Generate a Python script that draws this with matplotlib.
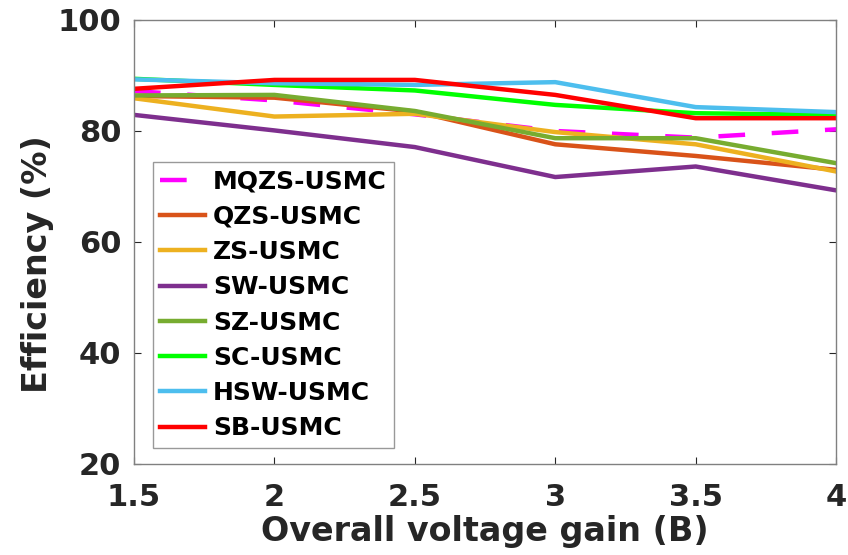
import matplotlib
matplotlib.use('Agg')
import matplotlib.pyplot as plt

plt.rcParams['font.family'] = ['DejaVu Sans']
plt.rcParams['font.weight'] = 'bold'

gain = [1.5, 2, 2.5, 3, 3.5, 4]

mqzs = [87.2, 85.5, 83.0, 80.0, 78.8, 80.3]
qzs = [86.3, 86.0, 83.5, 77.6, 75.5, 73.0]
zs = [85.9, 82.6, 83.1, 79.8, 77.6, 72.7]
sw = [82.9, 80.1, 77.1, 71.7, 73.6, 69.3]
sz = [86.4, 86.5, 83.6, 78.7, 78.7, 74.2]
sc = [89.4, 88.3, 87.3, 84.7, 83.2, 82.9]
hsw = [89.3, 88.6, 88.3, 88.8, 84.3, 83.4]
sb = [87.6, 89.2, 89.2, 86.5, 82.3, 82.3]

names = ['MQZS-USMC', 'QZS-USMC', 'ZS-USMC', 'SW-USMC', 'SZ-USMC',
         'SC-USMC', 'HSW-USMC', 'SB-USMC']
series = [mqzs, qzs, zs, sw, sz, sc, hsw, sb]
colors = ['#FF00FF', '#D95319', '#EDB120', '#7E2F8E', '#77AC30',
          '#00FF00', '#4DBEEE', '#FF0000']

fig = plt.figure(figsize=(8.48, 5.55), dpi=100)
ax = fig.add_axes([0.158, 0.164, 0.828, 0.8])

for i in range(len(series)):
    if i == 0:
        ax.plot(gain, series[i], '--', color=colors[i], lw=3.2,
                label=names[i], dashes=(6, 6))
    else:
        ax.plot(gain, series[i], '-', color=colors[i], lw=3.2,
                label=names[i])

ax.set_xlim(1.5, 4)
ax.set_ylim(20, 100)
ax.set_xticks(gain)
ax.set_xticklabels(['1.5', '2', '2.5', '3', '3.5', '4'])
ax.set_yticks([20, 40, 60, 80, 100])
ax.tick_params(direction='in', length=5, labelsize=22, colors='#262626',
               top=True, right=True, width=0.8)
ax.tick_params(axis='x', pad=14)
ax.tick_params(axis='y', pad=9)
for s in ax.spines.values():
    s.set_color('#808080')
    s.set_linewidth(1)

ax.set_xlabel('Overall voltage gain (B)', fontsize=24, fontweight='bold',
              color='#262626', labelpad=2)
ax.set_ylabel('Efficiency (%)', fontsize=24, fontweight='bold',
              color='#262626')
ax.yaxis.set_label_coords(-0.114, 0.45)

leg = ax.legend(loc='upper left', bbox_to_anchor=(0.027, 0.68),
                borderaxespad=0, fontsize=18, frameon=True, fancybox=False,
                edgecolor='#808080', handlelength=1.8, handletextpad=0.3,
                labelspacing=0.45, borderpad=0.3)
leg.get_frame().set_linewidth(1)

fig.savefig('out.png', dpi=100)
